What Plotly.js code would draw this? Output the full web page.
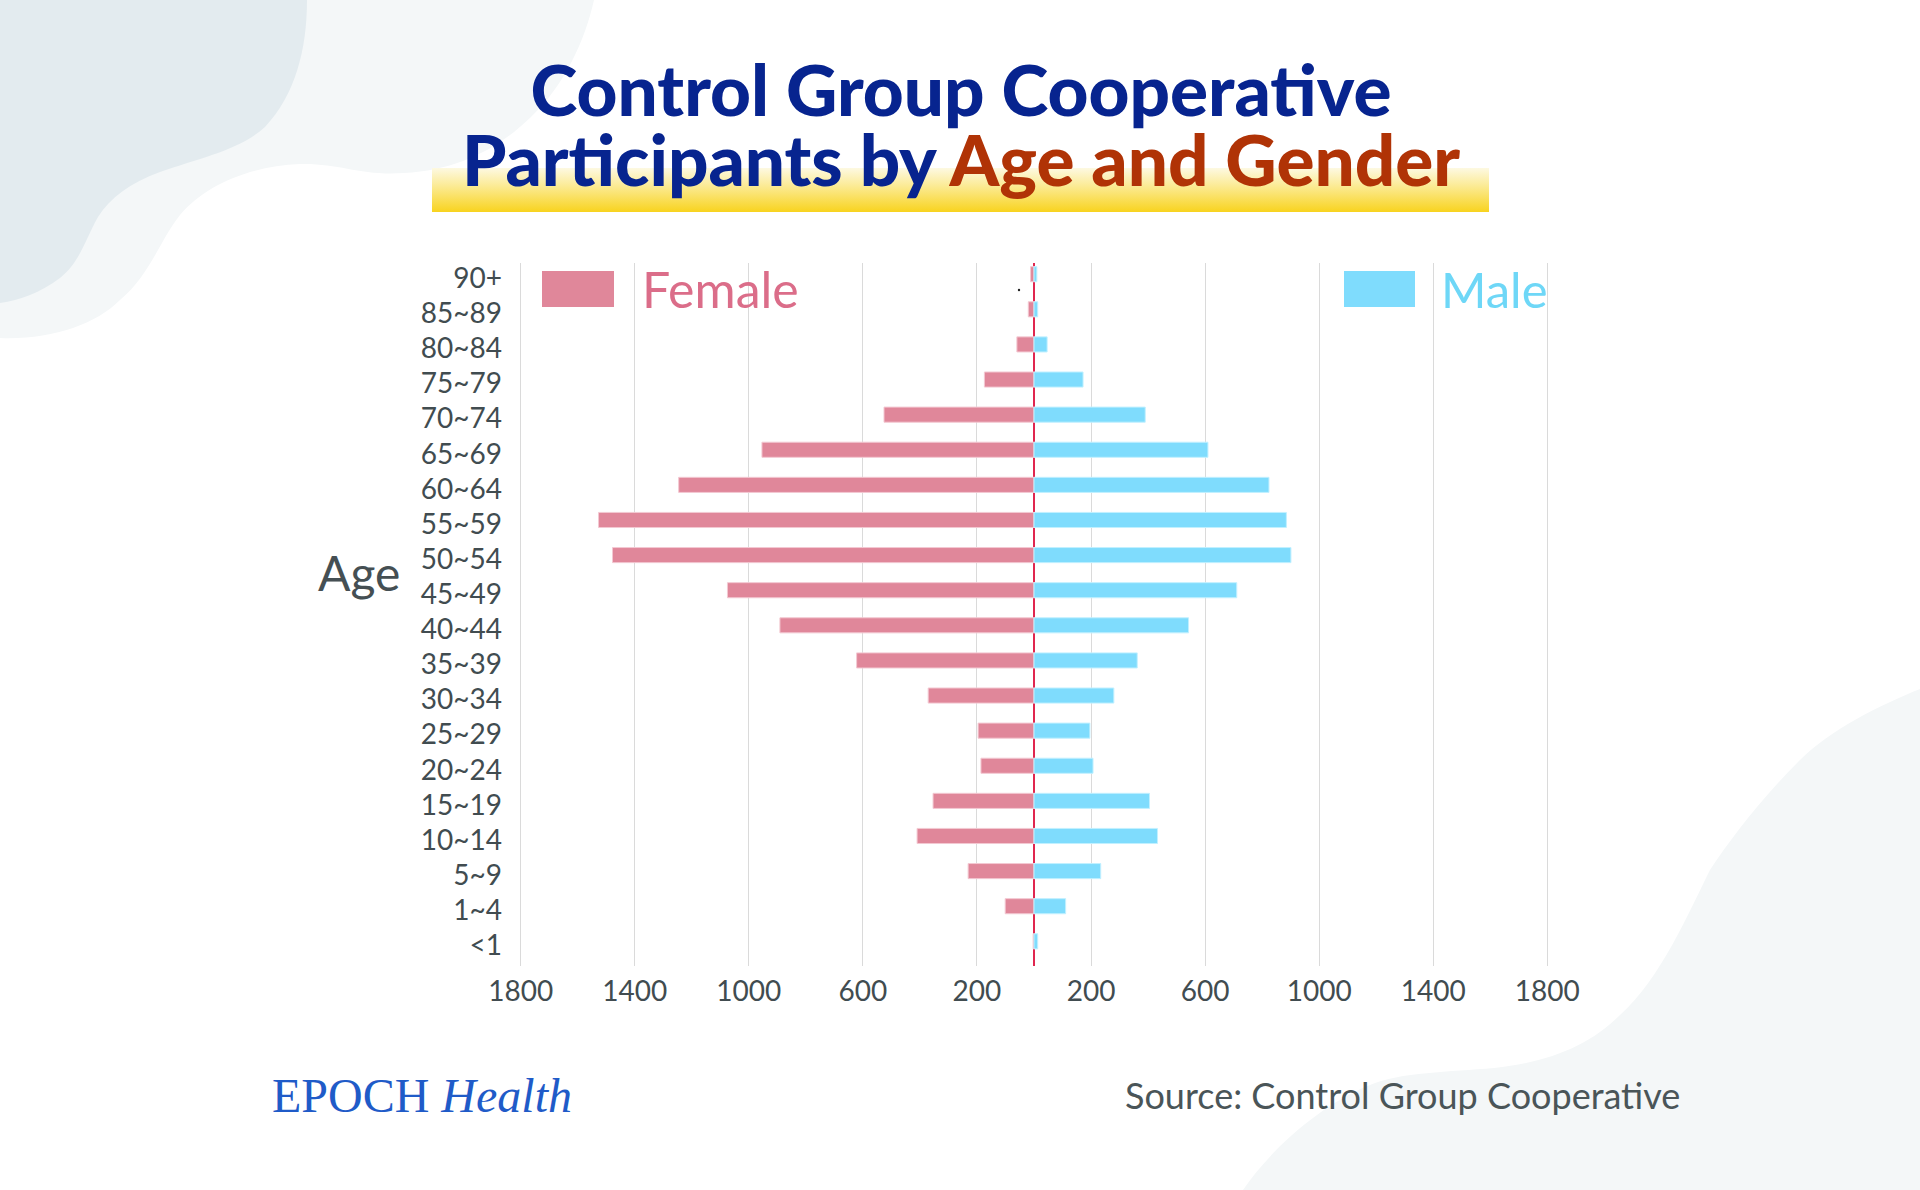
<!DOCTYPE html>
<html>
<head>
<meta charset="utf-8">
<script src="https://cdn.plot.ly/plotly-3.0.1.min.js"></script>
<style>
  html, body { margin: 0; padding: 0; background: #ffffff; }
  #chart { width: 1920px; height: 1190px; }
</style>
</head>
<body>
<div id="chart"></div>
<script>
// ---------------- DATA ----------------
const ageGroups = ['90+','85~89','80~84','75~79','70~74','65~69','60~64','55~59','50~54','45~49',
                   '40~44','35~39','30~34','25~29','20~24','15~19','10~14','5~9','1~4','<1'];
const femaleCounts = [12, 20, 60, 174, 526, 954, 1246, 1527, 1478, 1075,
                      891, 622, 371, 196, 186, 354, 410, 231, 101, 3];
const maleCounts   = [10, 13, 46, 172, 390, 610, 824, 885, 901, 711,
                      542, 362, 280, 196, 207, 405, 433, 234, 111, 13];
const xTickVals = [-1800, -1400, -1000, -600, -200, 200, 600, 1000, 1400, 1800];
const xTickText = ['1800', '1400', '1000', '600', '200', '200', '600', '1000', '1400', '1800'];

// ---------------- LAYOUT GEOMETRY ----------------
const W = 1920, H = 1190;
const L = 509, R = 1559, T = 263, B = 966;
const PW = R - L, PH = B - T;
const px = v => (v - L) / PW;
const py = v => (B - v) / PH;

const FEMALE = '#e0879a', MALE = '#7fdcfd';
const TEXT = '#414c50';

// decorative background (blobs + yellow highlight band)
const bgSvg =
  '<svg xmlns="http://www.w3.org/2000/svg" width="1920" height="1190" viewBox="0 0 1920 1190">' +
  '<defs><linearGradient id="g" x1="0" y1="0" x2="0" y2="1">' +
  '<stop offset="0" stop-color="#fdf9e2"/><stop offset="0.45" stop-color="#fbe98c"/><stop offset="1" stop-color="#f8d31f"/>' +
  '</linearGradient></defs>' +
  '<path fill="#f4f7f8" d="M0,0 H594 C585,40 565,85 531,117 C500,147 460,170 404,173 C360,176 340,163 300,164 C250,166 205,185 180,215 C160,240 150,275 120,300 C95,325 50,340 0,338 Z"/>' +
  '<path fill="#e3ebef" d="M0,0 H307 C307,50 295,95 265,127 C240,150 200,158 160,172 C130,183 110,198 98,217 C85,240 80,262 60,278 C40,293 20,300 0,303 Z"/>' +
  '<path fill="#f4f7f8" d="M1920,689 C1880,705 1830,730 1800,760 C1760,800 1730,840 1710,870 C1690,910 1660,980 1620,1015 C1590,1045 1550,1062 1494,1068 C1450,1072 1400,1072 1370,1085 C1320,1105 1270,1150 1243,1190 L1920,1190 Z"/>' +
  '<rect x="432" y="168" width="1057" height="44" fill="url(#g)"/>' +
  '</svg>';
const bgUri = 'data:image/svg+xml;charset=utf-8,' + encodeURIComponent(bgSvg);

// ---------------- TRACES ----------------
const traces = [
  {
    type: 'bar', orientation: 'h', name: 'Female',
    y: ageGroups,
    x: femaleCounts.map(v => -v),
    customdata: femaleCounts,
    hovertemplate: '%{y}: %{customdata}<extra>Female</extra>',
    width: 0.43,
    marker: { color: FEMALE, line: { color: '#f3c9d2', width: 1 } }
  },
  {
    type: 'bar', orientation: 'h', name: 'Male',
    y: ageGroups,
    x: maleCounts,
    hovertemplate: '%{y}: %{x}<extra>Male</extra>',
    width: 0.43,
    marker: { color: MALE, line: { color: '#c2f0ff', width: 1 } }
  }
];

// Title: one annotation, base size 54 gives a 70px line pitch; glyphs drawn at 71px via spans
const titleText =
  '<span style="font-size:71px">Control Group Cooperative</span><br>' +
  '<span style="font-size:71px">Participants by <span style="color:#b03306">Age and Gender</span></span>';

const layout = {
  width: W, height: H,
  margin: { l: L, r: W - R, t: T, b: H - B, pad: 0 },
  paper_bgcolor: '#ffffff',
  plot_bgcolor: 'rgba(0,0,0,0)',
  showlegend: false,
  barmode: 'overlay',
  font: { family: 'Lato, "Noto Sans", sans-serif', color: TEXT },
  xaxis: {
    range: [-1841, 1841],
    tickmode: 'array', tickvals: xTickVals, ticktext: xTickText,
    showgrid: true, gridcolor: '#dadada', gridwidth: 1,
    zeroline: true, zerolinecolor: '#e0264f', zerolinewidth: 2.5,
    showline: false, ticks: '',
    tickfont: { size: 28, color: TEXT },
    ticklabelstandoff: 6,
    fixedrange: true
  },
  yaxis: {
    type: 'category',
    categoryorder: 'array', categoryarray: ageGroups,
    range: [19.703, -0.319],
    showgrid: false, zeroline: false, showline: false, ticks: '',
    tickfont: { size: 28, color: TEXT },
    ticklabelstandoff: 6,
    ticklabelshift: -4,
    fixedrange: true
  },
  images: [{
    source: bgUri, xref: 'paper', yref: 'paper',
    x: px(0), y: py(0), sizex: W / PW, sizey: H / PH,
    xanchor: 'left', yanchor: 'top', sizing: 'stretch', layer: 'below'
  }],
  shapes: [
    { type: 'rect', xref: 'paper', yref: 'paper', x0: px(542), x1: px(614), y0: py(307), y1: py(271),
      fillcolor: FEMALE, line: { width: 0 }, layer: 'above' },
    { type: 'rect', xref: 'paper', yref: 'paper', x0: px(1344), x1: px(1415), y0: py(307), y1: py(271),
      fillcolor: MALE, line: { width: 0 }, layer: 'above' },
    { type: 'circle', xref: 'paper', yref: 'paper', x0: px(1017.8), x1: px(1020.2), y0: py(291.2), y1: py(288.8),
      fillcolor: '#222222', line: { width: 0 }, layer: 'above' }
  ],
  annotations: [
    { text: titleText, xref: 'paper', yref: 'paper',
      x: px(961), y: py(123), xanchor: 'center', yanchor: 'middle', align: 'center', showarrow: false,
      font: { family: 'Lato, "Noto Sans", sans-serif', size: 54, color: '#07248f', weight: 900 } },
    { text: 'Age', xref: 'paper', yref: 'paper', x: px(402), y: py(572), xanchor: 'right', yanchor: 'middle',
      showarrow: false, font: { size: 48, color: '#454f53' } },
    { text: 'Female', xref: 'paper', yref: 'paper', x: px(640), y: py(289), xanchor: 'left', yanchor: 'middle',
      showarrow: false, font: { size: 50, color: '#db6d89' } },
    { text: 'Male', xref: 'paper', yref: 'paper', x: px(1439), y: py(289), xanchor: 'left', yanchor: 'middle',
      showarrow: false, font: { size: 49, color: '#6ed7f7' } },
    { text: 'EPOCH <i>Health</i>', xref: 'paper', yref: 'paper', x: px(270), y: py(1095), xanchor: 'left', yanchor: 'middle',
      showarrow: false, font: { family: '"Liberation Serif", "DejaVu Serif", serif', size: 48, color: '#1f5bc8' } },
    { text: 'Source: Control Group Cooperative', xref: 'paper', yref: 'paper', x: px(1682), y: py(1095),
      xanchor: 'right', yanchor: 'middle', showarrow: false, font: { size: 36, color: '#4a5558' } }
  ]
};

Plotly.newPlot('chart', traces, layout, { staticPlot: true, displayModeBar: false });
</script>
</body>
</html>
